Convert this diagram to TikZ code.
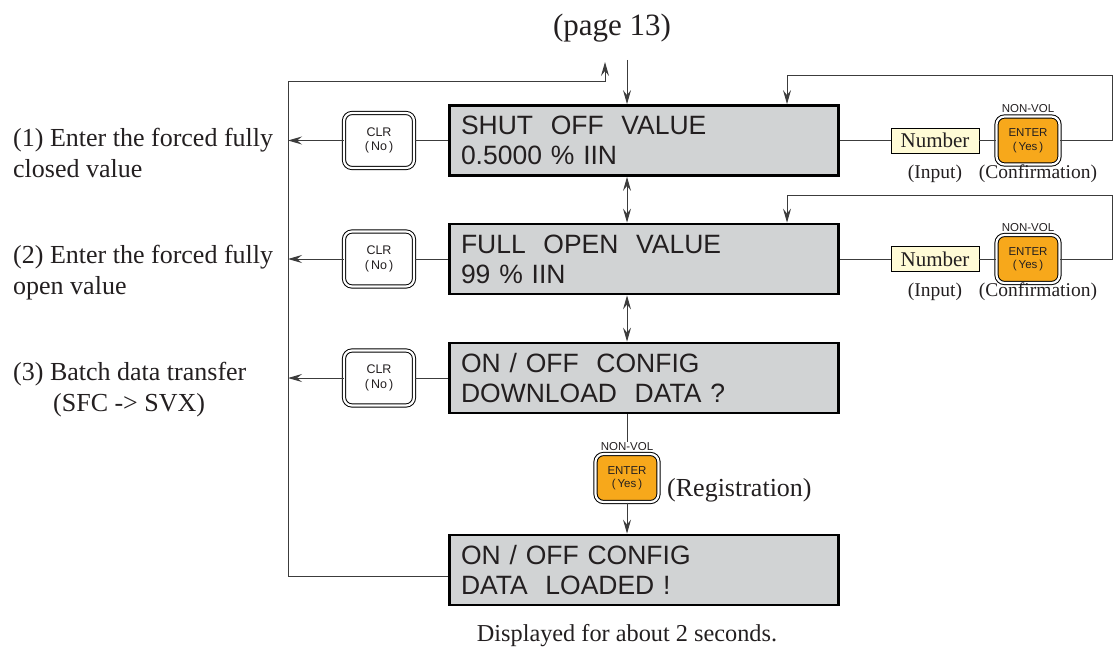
\documentclass[tikz,border=0pt]{standalone}
\usepackage{fontspec}
\setmainfont{Liberation Serif}
\newfontfamily\lcdfont{Liberation Sans}
\usetikzlibrary{arrows.meta,calc,positioning}
\definecolor{lcdgray}{RGB}{209,211,212}
\definecolor{numyellow}{RGB}{255,251,214}
\definecolor{enterorange}{RGB}{247,168,27}
\definecolor{linegray}{RGB}{60,60,60}
\definecolor{ink}{RGB}{35,31,32}
\begin{document}
\begin{tikzpicture}[x=1pt,y=-1pt,
  lcd/.style={draw=black, line width=2.8pt, fill=lcdgray, minimum width=389pt, minimum height=70pt,
    align=left, text width=366pt, inner xsep=0pt, inner ysep=0pt, text=ink,
    font=\lcdfont\fontsize{26.5}{30}\selectfont},
  btn/.style={draw=black, line width=1pt, double=white, double distance=2.2pt, rounded corners=8pt,
    align=center, inner sep=0pt, text=ink, font=\lcdfont\fontsize{12.5}{14.5}\selectfont},
  clrbtn/.style={btn, fill=white, minimum width=70pt, minimum height=55pt},
  entbtn/.style={btn, fill=enterorange, minimum width=63pt, minimum height=48pt,
    font=\lcdfont\fontsize{11.5}{13.5}\selectfont},
  nonvol/.style={font=\lcdfont\fontsize{11.5}{12}\selectfont, text=ink, inner sep=0pt},
  num/.style={draw=black, line width=0.8pt, fill=numyellow, minimum width=88pt, minimum height=25pt,
    inner sep=0pt, text=ink, font=\fontsize{21}{21}\selectfont},
  small/.style={text=ink, inner sep=0pt, font=\fontsize{19.5}{20}\selectfont},
  lab/.style={text=ink, inner sep=0pt, align=left, font=\fontsize{26}{31}\selectfont},
  conn/.style={draw=linegray, line width=1pt},
  tip/.tip={Stealth[length=14pt,width=8pt,inset=5pt]},
  arr/.style={-tip},
  darr/.style={tip-tip}
]
\useasboundingbox (0,0) rectangle (1118,647);

% title
\node[text=ink, inner sep=0pt, font=\fontsize{31}{31}\selectfont, anchor=base] (page) at (612,36) {(page 13)};

% LCD boxes
\node[lcd] (b1) at (644,140.5) {SHUT\ \ OFF\ \ VALUE\\0.5000 \% IIN};
\node[lcd] (b2) at (644,259) {FULL\ \ OPEN\ \ VALUE\\99 \% IIN};
\node[lcd] (b3) at (644,378) {ON / OFF\ \ CONFIG\\DOWNLOAD\ \ DATA ?};
\node[lcd] (b4) at (644,570) {ON / OFF CONFIG\\DATA\ \ LOADED !};

% CLR buttons
\node[clrbtn] (c1) at (379,140.5) {CLR\\(\,No\,)};
\node[clrbtn] (c2) at (379,259) {CLR\\(\,No\,)};
\node[clrbtn] (c3) at (379,378) {CLR\\(\,No\,)};

% Number inputs and ENTER buttons
\node[num] (n1) at (935,140.5) {Number};
\node[num] (n2) at (935,259) {Number};
\node[entbtn] (e1) at (1028,140.5) {ENTER\\(\,Yes\,)};
\node[entbtn] (e2) at (1028,259) {ENTER\\(\,Yes\,)};
\node[nonvol, above=3pt of e1] (nv1) {NON-VOL};
\node[nonvol, above=3pt of e2] (nv2) {NON-VOL};
\node[small] (in1) at (935,174) {(Input)};
\node[small] (cf1) at (1038,174) {(Confirmation)};
\node[small] (in2) at (935,292) {(Input)};
\node[small] (cf2) at (1038,292) {(Confirmation)};

\node[entbtn] (e3) at (627,478) {ENTER\\(\,Yes\,)};
\node[nonvol, above=3pt of e3] (nv3) {NON-VOL};
\node[lab, anchor=west] (reg) at (667,490) {(Registration)};

% left labels (base anchor = baseline of last line)
\node[lab, anchor=base west] (l1) at (13,178) {(1) Enter the forced fully\\closed value};
\node[lab, anchor=base west] (l2) at (13,294) {(2) Enter the forced fully\\open value};
\node[lab, anchor=base west] (l3) at (13,411) {(3) Batch data transfer\\\hspace*{40pt}(SFC -> SVX)};

\node[text=ink, inner sep=0pt, font=\fontsize{24.3}{25}\selectfont, anchor=base] (disp) at (627,641) {Displayed for about 2 seconds.};

% coordinates
\coordinate (lt) at (288,82);
\coordinate (upt) at (605,62);
\coordinate (dns) at (627,60);
\coordinate (r1) at (1112,76);
\coordinate (r2) at (1112,195);
\coordinate (k1) at (787,76);
\coordinate (k2) at (787,195);

% left return loop
\draw[conn,arr] ([yshift=-6pt]b4.west) -| (lt) -| (upt);
\draw[conn,arr] (dns) -- (dns |- b1.north);

% CLR connectors
\foreach \i in {1,2,3}{
  \draw[conn] (c\i.east) -- (b\i.west);
  \draw[conn,arr] (c\i.west) -- (c\i.west -| lt);
}

% between boxes
\draw[conn,darr] (b1.south -| dns) -- (b2.north -| dns);
\draw[conn,darr] (b2.south -| dns) -- (b3.north -| dns);
\draw[conn] (b3.south -| e3) -- (nv3.north);
\draw[conn,arr] (e3.south) -- (e3 |- b4.north);

% right loops
\draw[conn] (b1.east) -- (n1.west);
\draw[conn] (n1.east) -- (e1.west);
\draw[conn,arr] (e1.east) -| (r1) -- (k1) -- (k1 |- b1.north);
\draw[conn] (b2.east) -- (n2.west);
\draw[conn] (n2.east) -- (e2.west);
\draw[conn,arr] (e2.east) -| (r2) -- (k2) -- (k2 |- b2.north);
\end{tikzpicture}
\end{document}
